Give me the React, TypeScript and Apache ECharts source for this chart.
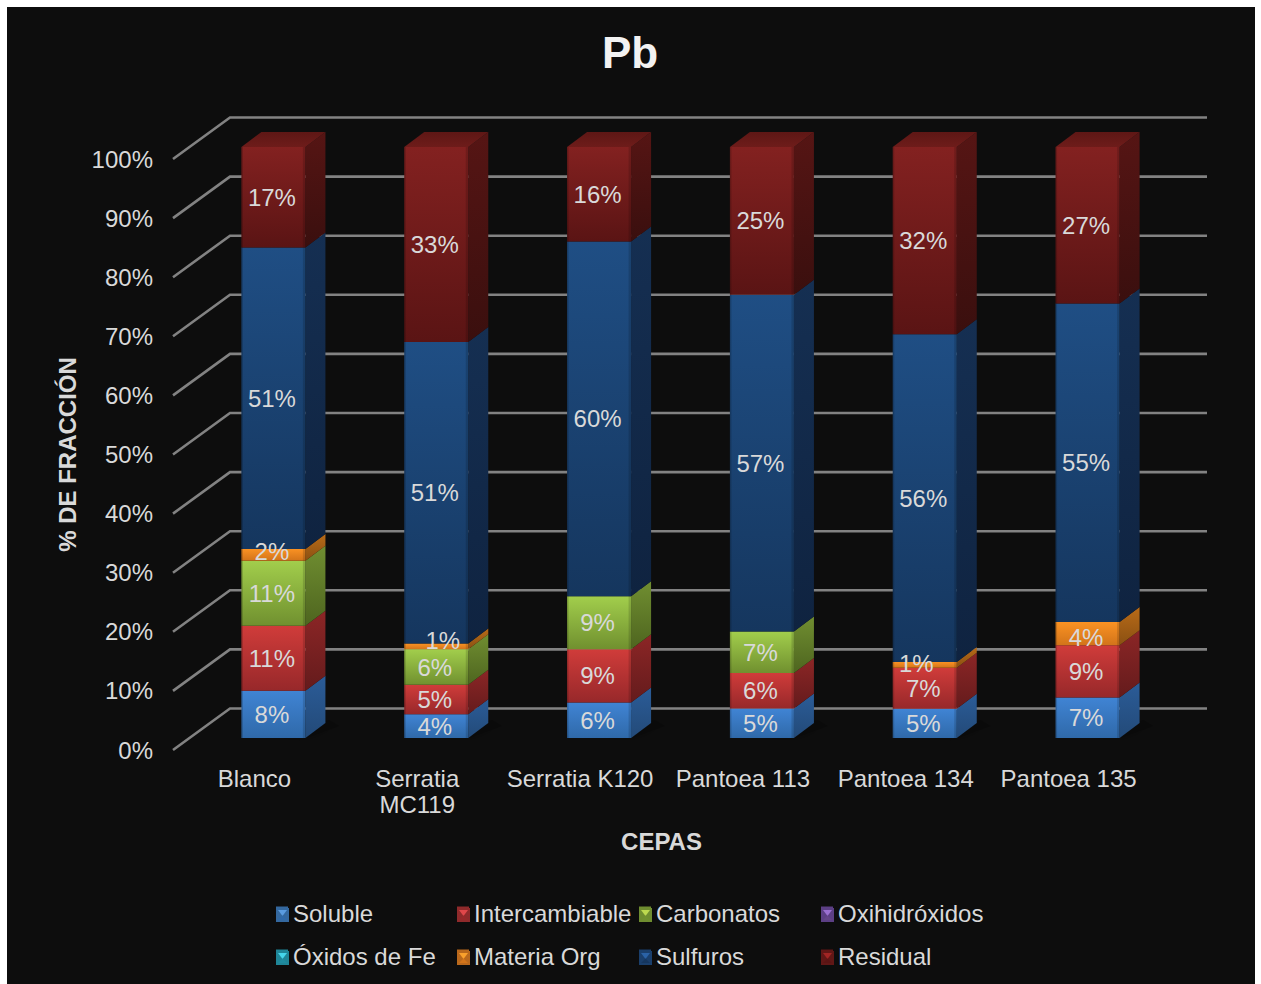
import React, { useEffect, useRef } from "react";
import * as echarts from "echarts";

const categories = ["Blanco", "Serratia\nMC119", "Serratia K120", "Pantoea 113", "Pantoea 134", "Pantoea 135"];
const yTicks = [0, 10, 20, 30, 40, 50, 60, 70, 80, 90, 100];

const soluble = [8, 4, 6, 5, 5, 7];
const intercambiable = [11, 5, 9, 6, 7, 9];
const carbonatos = [11, 6, 9, 7, 0, 0];
const oxihidroxidos = [0, 0, 0, 0, 0, 0];
const oxidosFe = [0, 0, 0, 0, 0, 0];
const materiaOrg = [2, 1, 0, 0, 1, 4];
const sulfuros = [51, 51, 60, 57, 56, 55];
const residual = [17, 33, 16, 25, 32, 27];

const fractionNames = ["Soluble", "Intercambiable", "Carbonatos", "Oxihidróxidos", "Óxidos de Fe", "Materia Org", "Sulfuros", "Residual"];
const fractionValues = [soluble, intercambiable, carbonatos, oxihidroxidos, oxidosFe, materiaOrg, sulfuros, residual];

// Face shades per fraction: front top/bottom, side top/bottom, legend swatch
const shades = [
  { f: ["#4084d4", "#2f69a9"], s: ["#2b5c98", "#234a78"], key: "#34689f", hi: "#5a9be0" },
  { f: ["#d03c3a", "#97282a"], s: ["#8c2626", "#641b1c"], key: "#8f2a2b", hi: "#e0474a" },
  { f: ["#a2ce4c", "#70902f"], s: ["#708e31", "#4e651f"], key: "#6f8d30", hi: "#bdd94f" },
  { f: ["#8a66b8", "#644588"], s: ["#5f4680", "#46325f"], key: "#5c3f85", hi: "#9a6fd0" },
  { f: ["#2fc0d8", "#1f8ba0"], s: ["#1f8296", "#175f70"], key: "#1f8597", hi: "#45d5ea" },
  { f: ["#fa9223", "#d2741a"], s: ["#b96b18", "#8a5012"], key: "#b9681c", hi: "#f9a02c" },
  { f: ["#1f4e84", "#15365e"], s: ["#152f52", "#0f2340"], key: "#1a3f6c", hi: "#2a62a6" },
  { f: ["#832120", "#5a1414"], s: ["#561514", "#3a0f0e"], key: "#611716", hi: "#a12524" },
];

// Nudges for labels that sit on very thin segments: "fraction:category" -> [dx, dy]
const labelNudges: Record<string, [number, number]> = {
  "5:0": [0, -3],
  "5:1": [8, -6],
  "5:4": [-7, -1],
  "5:5": [0, 4],
};

const PAGE = 7;
const WALL_DX = 57;
const WALL_DY = -41.5;
const BAR_DX = 18.6;
const BAR_DY = -12;
const BAR_W = 64;
const DEPTH_X = 20;
const DEPTH_Y = -15;
const TEXT = "#d9d9d9";

const grad = (a: string, b: string) => ({
  type: "linear", x: 0, y: 0, x2: 0, y2: 1,
  colorStops: [{ offset: 0, color: a }, { offset: 1, color: b }],
});

// Cumulative 100 % stacking of the fractions in one category
function stackRow(seriesIdx: number, catIdx: number) {
  const total = fractionValues.reduce((sum, v) => sum + v[catIdx], 0);
  let below = 0;
  for (let i = 0; i < seriesIdx; i++) below += fractionValues[i][catIdx];
  const value = fractionValues[seriesIdx][catIdx];
  return [catIdx, (below / total) * 100, ((below + value) / total) * 100, value];
}

function renderSegment(seriesIdx: number) {
  const shade = shades[seriesIdx];
  return (_params: any, api: any) => {
    const cat = api.value(0);
    const value = api.value(3);
    if (!value) return { type: "group", children: [] };
    const low = api.coord([cat, api.value(1)]);
    const high = api.coord([cat, api.value(2)]);
    const x = low[0] + BAR_DX - BAR_W / 2 + 0.4;
    const yB = low[1] + BAR_DY;
    const yT = high[1] + BAR_DY;
    const r = x + BAR_W;
    const children: any[] = [];

    if (seriesIdx === 0) {
      // faint shadow cast on the floor
      children.push({
        type: "polygon",
        shape: { points: [[x + 6, yB - 1], [r + 2, yB], [r + 34, yB - 12], [r + 24, yB - 18]] },
        style: { fill: "rgba(0,0,0,0.22)", shadowBlur: 16, shadowColor: "rgba(0,0,0,0.5)" },
      });
    }
    children.push({
      type: "polygon",
      shape: { points: [[r, yT], [r + DEPTH_X, yT + DEPTH_Y], [r + DEPTH_X, yB + DEPTH_Y], [r, yB]] },
      style: { fill: grad(shade.s[0], shade.s[1]) },
    });
    children.push({
      type: "rect",
      shape: { x, y: yT, width: BAR_W, height: yB - yT },
      style: { fill: grad(shade.f[0], shade.f[1]) },
    });
    // bevelled vertical edges of the front face
    children.push({ type: "rect", shape: { x, y: yT, width: 1.5, height: yB - yT }, style: { fill: "rgba(0,0,0,0.18)" } });
    children.push({ type: "rect", shape: { x: r - 2.5, y: yT, width: 2.5, height: yB - yT }, style: { fill: "rgba(0,0,0,0.14)" } });
    if (seriesIdx === fractionValues.length - 1) {
      children.push({
        type: "polygon",
        shape: { points: [[x, yT], [x + DEPTH_X, yT + DEPTH_Y], [r + DEPTH_X, yT + DEPTH_Y], [r, yT]] },
        style: { fill: grad("#5e1715", "#6e1c1a") },
      });
    }
    const nudge = labelNudges[`${seriesIdx}:${cat}`] || [0, 0];
    children.push({
      type: "text",
      z2: 50,
      style: {
        text: `${value}%`,
        x: x + BAR_W / 2 - 1.5 + nudge[0],
        y: (yT + yB) / 2 + nudge[1],
        fill: TEXT,
        font: "24px 'Liberation Sans'",
        textAlign: "center",
        textVerticalAlign: "middle",
      },
    });
    return { type: "group", children };
  };
}

function renderWallLine(params: any, api: any) {
  const p = api.coord([0, api.value(1)]);
  const x0 = params.coordSys.x;
  const x1 = x0 + params.coordSys.width;
  return {
    type: "polyline",
    shape: { points: [[x0, p[1]], [x0 + WALL_DX, p[1] + WALL_DY], [x1 + WALL_DX, p[1] + WALL_DY]] },
    style: { stroke: "#828282", lineWidth: 2.6, fill: "none" },
  };
}

const legendColumns = [
  { left: 276, names: ["Soluble", "Óxidos de Fe"] },
  { left: 457, names: ["Intercambiable", "Materia Org"] },
  { left: 639, names: ["Carbonatos", "Sulfuros"] },
  { left: 821, names: ["Oxihidróxidos", "Residual"] },
];
const LEGEND_TOP = 900;
const LEGEND_ROW = 43;

// Pyramid faces drawn over each legend swatch
function swatchFaces() {
  const items: any[] = [];
  legendColumns.forEach((col) => {
    col.names.forEach((name, row) => {
      const shade = shades[fractionNames.indexOf(name)];
      const x = col.left - PAGE;
      const y = 908 + row * LEGEND_ROW - PAGE;
      items.push({
        type: "rect", z: 20, silent: true,
        shape: { x, y, width: 13, height: 14 },
        style: { fill: shade.key },
      });
      items.push({
        type: "polygon", z: 21, silent: true,
        shape: { points: [[x + 2, y + 2], [x + 11, y + 2], [x + 6.5, y + 8]] },
        style: { fill: shade.hi },
      });
      items.push({
        type: "polygon", z: 21, silent: true,
        shape: { points: [[x + 2, y + 12], [x + 11, y + 12], [x + 6.5, y + 7.5]] },
        style: { fill: shade.f[1] },
      });
    });
  });
  return items;
}

export default function App() {
  const ref = useRef<HTMLDivElement>(null);

  useEffect(() => {
    const chart = echarts.init(ref.current!, undefined, { renderer: "svg" });
    chart.setOption({
      animation: false,
      backgroundColor: "#0d0d0d",
      textStyle: { fontFamily: "'Liberation Sans'" },
      title: {
        text: "Pb",
        left: 618,
        top: 18,
        textAlign: "center",
        textStyle: { color: "#f2f2f2", fontSize: 44, fontWeight: "bold", fontFamily: "'Liberation Sans'" },
      },
      grid: { left: 166, top: 152, width: 977, height: 591, containLabel: false },
      xAxis: {
        type: "category",
        data: categories,
        name: "CEPAS",
        nameLocation: "middle",
        nameGap: 79,
        nameTextStyle: { color: TEXT, fontSize: 24, fontWeight: "bold" },
        axisLine: { show: false },
        axisTick: { show: false },
        axisLabel: { color: TEXT, fontSize: 24, margin: 15, lineHeight: 26, interval: 0, hideOverlap: false },
      },
      yAxis: {
        type: "value",
        min: 0,
        max: 100,
        interval: 10,
        name: "% DE FRACCIÓN",
        nameLocation: "middle",
        nameGap: 94,
        nameTextStyle: { color: TEXT, fontSize: 24, fontWeight: "bold" },
        axisLine: { show: false },
        axisTick: { show: false },
        splitLine: { show: false },
        axisLabel: { color: TEXT, fontSize: 24, margin: 20, formatter: "{value}%" },
      },
      legend: legendColumns.map((col) => ({
        orient: "vertical",
        left: col.left - PAGE,
        top: LEGEND_TOP - PAGE,
        padding: 0,
        itemWidth: 12,
        itemHeight: 14,
        itemGap: 16,
        selectedMode: false,
        icon: "rect",
        data: col.names,
        textStyle: { color: TEXT, fontSize: 24, height: 27, lineHeight: 27 },
      })),
      series: [
        {
          type: "custom",
          name: "Rejilla",
          z: 1,
          silent: true,
          data: yTicks.map((t) => [0, t]),
          encode: { x: 0, y: 1 },
          renderItem: renderWallLine,
        },
        ...fractionNames.map((name, i) => ({
          type: "custom",
          name,
          z: 2,
          silent: true,
          itemStyle: { color: shades[i].key },
          data: categories.map((_, c) => stackRow(i, c)),
          encode: { x: 0, y: [1, 2] },
          renderItem: renderSegment(i),
        })),
      ],
      graphic: swatchFaces(),
    });
    return () => chart.dispose();
  }, []);

  return (
    <div
      ref={ref}
      style={{ position: "absolute", left: PAGE, top: PAGE, width: 1248, height: 977, background: "#0d0d0d" }}
    />
  );
}
